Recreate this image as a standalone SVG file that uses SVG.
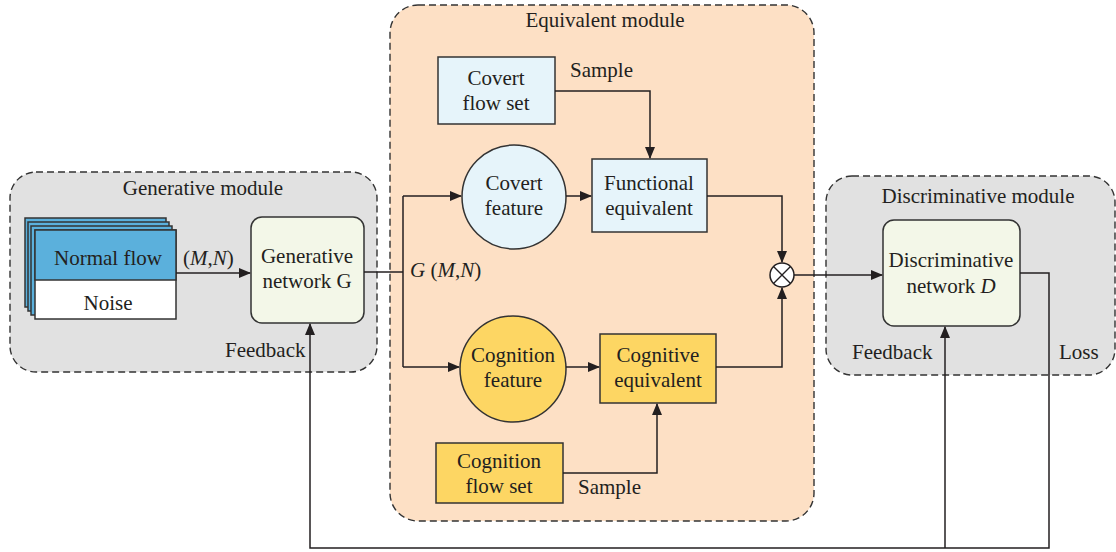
<svg xmlns="http://www.w3.org/2000/svg" width="1116" height="552" viewBox="0 0 1116 552" font-family="Liberation Serif, serif">
<style>
text{font-family:'Liberation Serif',serif;font-size:21px;fill:#231f20}
.c{text-anchor:middle}
.mod{stroke:#333;stroke-width:1.4;stroke-dasharray:7,4}
.box{stroke:#333;stroke-width:1.5}
.ln{fill:none;stroke:#231f20;stroke-width:1.5}
</style>
<defs>
<marker id="ah" markerWidth="12" markerHeight="10" refX="11" refY="5" orient="auto" markerUnits="userSpaceOnUse">
<path d="M0,0 L12,5 L0,10 Z" fill="#231f20"/>
</marker>
</defs>
<rect width="1116" height="552" fill="#fff"/>
<g id="generative-module">
<rect class="mod" x="10" y="172" width="367" height="200" rx="26" fill="#e1e1e1"/>
<text class="c" x="203" y="195">Generative module</text>
</g>
<g id="equivalent-module">
<rect class="mod" x="390" y="5" width="424" height="516" rx="28" fill="#fde0c5"/>
<text class="c" x="605" y="27">Equivalent module</text>
</g>
<g id="discriminative-module">
<rect class="mod" x="826" y="176" width="289" height="199" rx="26" fill="#e1e1e1"/>
<text class="c" x="978" y="203">Discriminative module</text>
</g>
<g id="normal-flow">
<rect class="box" x="25" y="218" width="141" height="89" fill="#5bb0dc" stroke-width="1.2"/>
<rect class="box" x="28" y="222" width="141" height="89" fill="#5bb0dc" stroke-width="1.2"/>
<rect class="box" x="31" y="226" width="141" height="89" fill="#5bb0dc" stroke-width="1.2"/>
<rect class="box" x="35" y="230" width="141" height="89" fill="#fff"/>
<rect x="35" y="230" width="141" height="50" fill="#5bb0dc" stroke="#333" stroke-width="1.5"/>
<text class="c" x="108" y="265">Normal flow</text>
<text class="c" x="108" y="310">Noise</text>
</g>
<g id="generative-network">
<rect class="box" x="251" y="217" width="113" height="106" rx="11" fill="#f3f7e8"/>
<text class="c" x="307" y="263">Generative</text>
<text class="c" x="307" y="288">network G</text>
</g>
<g id="covert-flow-set">
<rect class="box" x="438" y="57" width="117" height="67" fill="#e6f4fa"/>
<text class="c" x="496" y="85">Covert</text>
<text class="c" x="496" y="110">flow set</text>
</g>
<g id="covert-feature">
<circle class="box" cx="514" cy="197" r="52" fill="#e6f4fa"/>
<text class="c" x="514" y="190">Covert</text>
<text class="c" x="514" y="215">feature</text>
</g>
<g id="functional-equivalent">
<rect class="box" x="592" y="159" width="115" height="73" fill="#e6f4fa"/>
<text class="c" x="649" y="190">Functional</text>
<text class="c" x="649" y="215">equivalent</text>
</g>
<g id="cognition-feature">
<circle class="box" cx="513" cy="369" r="53" fill="#fdd663"/>
<text class="c" x="513" y="362">Cognition</text>
<text class="c" x="513" y="387">feature</text>
</g>
<g id="cognitive-equivalent">
<rect class="box" x="600" y="334" width="116" height="69" fill="#fdd663"/>
<text class="c" x="658" y="362">Cognitive</text>
<text class="c" x="658" y="387">equivalent</text>
</g>
<g id="cognition-flow-set">
<rect class="box" x="436" y="443" width="127" height="60" fill="#fdd663"/>
<text class="c" x="499" y="468">Cognition</text>
<text class="c" x="499" y="493">flow set</text>
</g>
<g id="combine">
<circle cx="782" cy="275" r="12" fill="#fff" stroke="#231f20" stroke-width="1.5"/>
<path d="M773.5,266.5 L790.5,283.5 M790.5,266.5 L773.5,283.5" stroke="#231f20" stroke-width="1.4"/>
</g>
<g id="discriminative-network">
<rect class="box" x="883" y="220" width="137" height="106" rx="11" fill="#f3f7e8"/>
<text class="c" x="951" y="267">Discriminative</text>
<text class="c" x="951" y="293">network <tspan font-style="italic">D</tspan></text>
</g>
<g id="connectors">
<path class="ln" d="M176,273 H250" marker-end="url(#ah)"/>
<path class="ln" d="M364,272 H403"/>
<path class="ln" d="M403,196 V367"/>
<path class="ln" d="M403,196 H461" marker-end="url(#ah)"/>
<path class="ln" d="M403,367 H459" marker-end="url(#ah)"/>
<path class="ln" d="M566,196 H591" marker-end="url(#ah)"/>
<path class="ln" d="M566,367 H599" marker-end="url(#ah)"/>
<path class="ln" d="M555,91 H650 V158" marker-end="url(#ah)"/>
<path class="ln" d="M563,473 H657 V404" marker-end="url(#ah)"/>
<path class="ln" d="M707,196 H782 V262" marker-end="url(#ah)"/>
<path class="ln" d="M716,367 H782 V288" marker-end="url(#ah)"/>
<path class="ln" d="M794,275 H882" marker-end="url(#ah)"/>
<path class="ln" d="M1020,273 H1049 V548 H310 V324" marker-end="url(#ah)"/>
<path class="ln" d="M945,548 V327" marker-end="url(#ah)"/>
</g>
<g id="labels">
<text x="183" y="265">(<tspan font-style="italic">M</tspan>,<tspan font-style="italic">N</tspan>)</text>
<text x="225" y="357">Feedback</text>
<text x="410" y="277"><tspan font-style="italic">G</tspan> (<tspan font-style="italic">M</tspan>,<tspan font-style="italic">N</tspan>)</text>
<text x="570" y="77">Sample</text>
<text x="578" y="494">Sample</text>
<text x="852" y="359">Feedback</text>
<text x="1059" y="359">Loss</text>
</g>
</svg>
